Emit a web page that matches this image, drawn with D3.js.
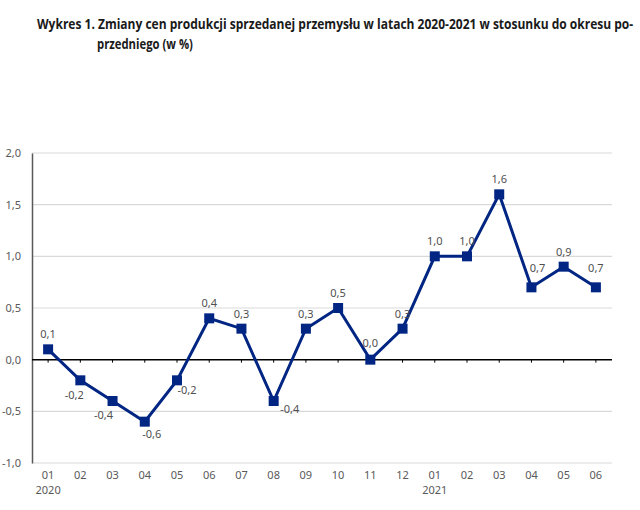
<!DOCTYPE html>
<html><head><meta charset="utf-8">
<script src="https://cdn.jsdelivr.net/npm/d3@7"></script>
<style>body{margin:0;background:#fff}svg{display:block}</style>
</head><body>
<svg id="c" width="640" height="510"></svg>
<script>
const months = ["01","02","03","04","05","06","07","08","09","10","11","12","01","02","03","04","05","06"];
const years = ["2020","","","","","","","","","","","","2021","","","","",""];
const values = [0.1,-0.2,-0.4,-0.6,-0.2,0.4,0.3,-0.4,0.3,0.5,0.0,0.3,1.0,1.0,1.6,0.7,0.9,0.7];
const yTicks = [-1.0,-0.5,0.0,0.5,1.0,1.5,2.0];
// label placement [dx, dy] relative to point
const labelOffsets = [[0,-11],[-6,19],[-9,18],[7,16],[10,14],[0,-11],[0,-11],[16,12],[0,-11],[0,-11],[0,-13],[0,-11],[0,-11],[0,-11],[0,-11],[6,-15],[0,-11],[0,-15]];

const svg = d3.select("#c");
const m = {l:32, r:612, t:153, b:463};
const x = d3.scaleBand().domain(d3.range(months.length)).range([m.l, m.r]);
const y = d3.scaleLinear().domain([-1,2]).range([m.b, m.t]);
const fmt = v => d3.format(".1f")(v).replace(".", ",").replace("−","-");
const font = "'Noto Sans', 'Open Sans', sans-serif";

// Title: fit font size to width, then stretch vertically for a condensed look
function titleLine(txt, x0, base, width) {
  const g = svg.append("g");
  const t = g.append("text").attr("x",0).attr("y",0)
    .attr("font-family","'Open Sans', sans-serif").attr("font-weight","bold")
    .attr("font-size","13px").attr("fill","#1a1a1a").text(txt);
  const w = t.node().getComputedTextLength();
  const fs = 13 * width / w;
  t.attr("font-size", fs + "px");
  g.attr("transform", `translate(${x0},${base}) scale(1,${13.5/fs})`);
}
titleLine("Wykres 1. Zmiany cen produkcji sprzedanej przemysłu w latach 2020-2021 w stosunku do okresu po-", 37, 29, 597);
titleLine("przedniego (w %)", 97, 49, 96);

// gridlines
svg.append("g").selectAll("line").data(yTicks.filter(d=>d!==0)).join("line")
  .attr("x1",m.l).attr("x2",m.r).attr("y1",d=>y(d)).attr("y2",d=>y(d))
  .attr("stroke","#d9d9d9").attr("stroke-width",1.2);

// y axis
const ya = svg.append("g").attr("transform",`translate(${m.l},0)`)
  .call(d3.axisLeft(y).tickValues(yTicks).tickSize(0).tickPadding(11).tickFormat(fmt));
ya.select(".domain").attr("stroke","#595959").attr("stroke-width",1.5);
ya.selectAll("text").attr("font-family",font).attr("font-size","11px").attr("fill","#595959");

// zero axis
const xa = svg.append("g").attr("transform",`translate(0,${y(0)})`)
  .call(d3.axisBottom(x).tickSize(3).tickFormat(""));
xa.select(".domain").remove();
xa.selectAll("line").attr("stroke","#000").attr("stroke-width",1);
svg.append("line").attr("x1",m.l).attr("x2",m.r).attr("y1",y(0)).attr("y2",y(0)).attr("stroke","#000").attr("stroke-width",1.5);

// category labels
const cx = i => x(i) + x.bandwidth()/2;
svg.append("g").selectAll("text").data(months).join("text")
  .attr("x",(d,i)=>cx(i)).attr("y",479).attr("text-anchor","middle")
  .attr("font-family",font).attr("font-size","11px").attr("fill","#595959").text(d=>d);
svg.append("g").selectAll("text").data(years).join("text")
  .attr("x",(d,i)=>cx(i)).attr("y",494).attr("text-anchor","middle")
  .attr("font-family",font).attr("font-size","11px").attr("fill","#595959").text(d=>d);

// line
const navy = "#002583";
svg.append("path").datum(values)
  .attr("d", d3.line().x((d,i)=>cx(i)).y(d=>y(d)))
  .attr("fill","none").attr("stroke",navy).attr("stroke-width",3).attr("stroke-linejoin","miter");

svg.append("g").selectAll("rect").data(values).join("rect")
  .attr("x",(d,i)=>cx(i)-5).attr("y",d=>y(d)-5).attr("width",10).attr("height",10).attr("fill",navy);

// data labels
svg.append("g").selectAll("text").data(values).join("text")
  .attr("x",(d,i)=>cx(i)+labelOffsets[i][0]).attr("y",(d,i)=>y(d)+labelOffsets[i][1])
  .attr("text-anchor","middle").attr("font-family",font).attr("font-size","11px").attr("fill","#505050")
  .text(d=>fmt(d));
</script>
</body></html>
